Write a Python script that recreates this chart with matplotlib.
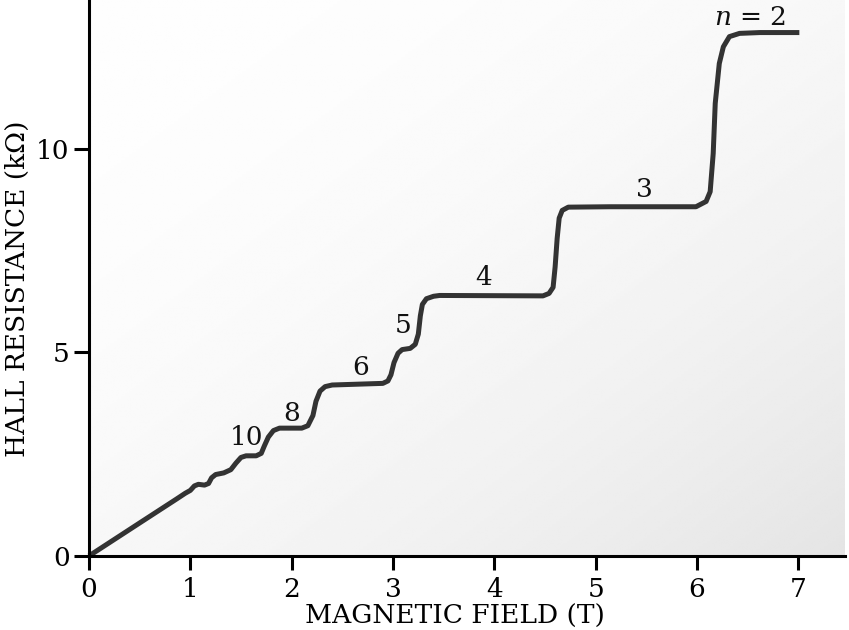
import numpy as np
import matplotlib.pyplot as plt

# Hall resistance vs magnetic field
field_T = [0.0, 0.50, 0.865, 0.95, 1.00, 1.04, 1.08, 1.14, 1.18, 1.21, 1.25, 1.33,
           1.40, 1.45, 1.50, 1.55, 1.65, 1.70, 1.73, 1.77, 1.82, 1.88, 2.10, 2.16,
           2.21, 2.24, 2.28, 2.33, 2.40, 2.90, 2.95, 2.98, 3.01, 3.05, 3.09, 3.17,
           3.22, 3.25, 3.27, 3.29, 3.33, 3.40, 3.46, 4.48, 4.54, 4.58, 4.60, 4.62,
           4.64, 4.67, 4.73, 5.14, 5.99, 6.09, 6.13, 6.16, 6.18, 6.22, 6.26, 6.32,
           6.42, 6.62, 7.01]
resistance_kohm = [0.0, 0.81, 1.40, 1.54, 1.61, 1.72, 1.76, 1.74, 1.78, 1.92, 2.00, 2.04,
                   2.12, 2.28, 2.42, 2.46, 2.46, 2.52, 2.70, 2.92, 3.08, 3.14, 3.14, 3.20,
                   3.45, 3.80, 4.05, 4.16, 4.20, 4.24, 4.30, 4.45, 4.75, 4.98, 5.07, 5.10,
                   5.20, 5.45, 5.90, 6.18, 6.32, 6.38, 6.40, 6.39, 6.45, 6.60, 7.10, 7.80,
                   8.30, 8.49, 8.57, 8.58, 8.58, 8.71, 8.95, 9.89, 11.12, 12.10, 12.51, 12.76,
                   12.84, 12.86, 12.86]

# plateau labels (text, x, y)
plateau_labels = ['$n$ = 2', '3', '4', '5', '6', '8', '10']
label_x = [6.52, 5.48, 3.89, 3.10, 2.68, 2.00, 1.55]
label_y = [13.22, 9.00, 6.83, 5.65, 4.64, 3.51, 2.90]

xticks = [0, 1, 2, 3, 4, 5, 6, 7]
yticks = [0, 5, 10]

plt.rcParams['font.family'] = ['DejaVu Serif']
plt.rcParams['mathtext.fontset'] = 'dejavuserif'

fig = plt.figure(figsize=(8.49, 6.30), dpi=100)
ax = fig.add_axes([0, 0, 1, 1])
ax.set_xlim(-0.878, 7.50)
ax.set_ylim(-1.82, 13.66)

# soft gray background gradient inside the plot area
gx, gy = np.meshgrid(np.linspace(0, 1, 200), np.linspace(0, 1, 200))
t = (gx + gy) / 2
shade = 0.995 - 0.10 * t ** 2
ax.imshow(shade, cmap='gray', vmin=0, vmax=1, origin='upper',
          extent=(0, 7.46, 0, 13.66), aspect='auto', zorder=0, interpolation='bilinear')

ax.plot(field_T, resistance_kohm, color='#333333', lw=3.6,
        solid_capstyle='butt', solid_joinstyle='round', zorder=3)

for txt, x, y in zip(plateau_labels, label_x, label_y):
    ax.text(x, y, txt, fontsize=19, ha='center', va='center', color='#111111')

for s in ['top', 'right']:
    ax.spines[s].set_visible(False)
ax.spines['left'].set_position(('data', 0))
ax.spines['bottom'].set_position(('data', 0))
ax.spines['left'].set_bounds(0, 13.66)
ax.spines['bottom'].set_bounds(0, 7.46)
for s in ['left', 'bottom']:
    ax.spines[s].set_linewidth(2.2)
    ax.spines[s].set_zorder(4)

ax.set_xticks(xticks)
ax.set_yticks(yticks)
ax.tick_params(axis='x', direction='out', length=10, width=2.2, pad=5, labelsize=19)
ax.tick_params(axis='y', direction='out', length=11, width=2.2, pad=3, labelsize=19)

ax.set_xlabel('MAGNETIC FIELD (T)', fontsize=19)
ax.xaxis.set_label_coords(0.536, 0.042)
ax.text(0.021, 0.541, 'HALL RESISTANCE (kΩ)', fontsize=19, rotation=90,
        ha='center', va='center', transform=ax.transAxes)

fig.savefig('out.png', dpi=100)
